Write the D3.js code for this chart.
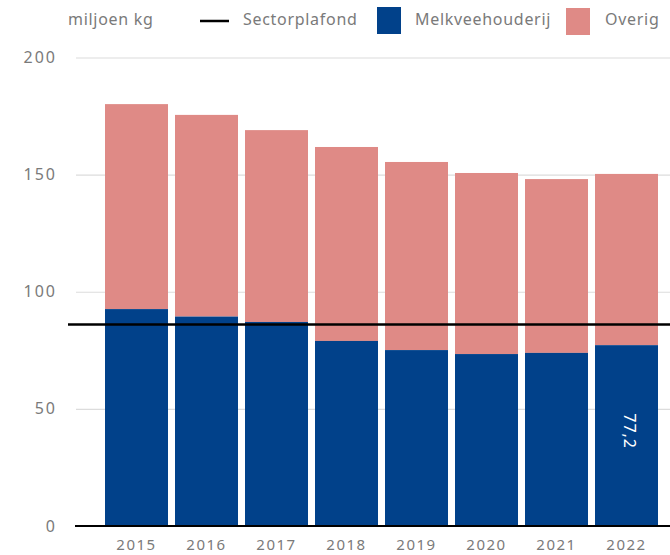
<!DOCTYPE html>
<html>
<head>
<meta charset="utf-8">
<script src="https://cdn.jsdelivr.net/npm/d3@7"></script>
<style>
  body { margin: 0; background: #fff; }
  svg text { font-family: "Noto Sans", sans-serif; }
</style>
</head>
<body>
<div id="chart"></div>
<script>
const years = ['2015', '2016', '2017', '2018', '2019', '2020', '2021', '2022'];
const totals = [180.1, 175.5, 169.0, 161.8, 155.4, 150.7, 148.1, 150.3];
const melkvee = [92.6, 89.4, 87.1, 79.0, 75.1, 73.4, 73.9, 77.2];
const sectorplafond = 86.0;
const yTicks = [0, 50, 100, 150, 200];

const width = 670;
const height = 555;

const svg = d3.select('#chart').append('svg')
  .attr('width', width)
  .attr('height', height);

const xScale = d3.scaleBand()
  .domain(years)
  .range([101.5, 661.5])
  .paddingInner(0.1)
  .paddingOuter(0.05);

const yScale = d3.scaleLinear().domain([0, 200]).range([526, 57.5]);

// gridlines
const grid = svg.append('g')
  .attr('transform', 'translate(76, 0)')
  .call(d3.axisLeft(yScale).tickValues(yTicks).tickFormat('').tickSize(-(width - 76)));
grid.select('.domain').remove();
grid.selectAll('line').attr('stroke', '#dcdcdc').attr('stroke-width', 1.2);

// y labels
svg.append('g').selectAll('text').data(yTicks).join('text')
  .attr('x', 57)
  .attr('y', (d) => yScale(d))
  .attr('dy', '0.35em')
  .attr('text-anchor', 'end')
  .attr('fill', '#7a7a7a')
  .style('font-size', '16px')
  .style('letter-spacing', '2px')
  .text((d) => d);

// bars
const rows = years.map((y, i) => ({ year: y, total: totals[i], melk: melkvee[i] }));
const bars = svg.append('g');
bars.selectAll('rect.overig').data(rows).join('rect')
  .attr('class', 'overig')
  .attr('x', (d) => xScale(d.year))
  .attr('width', xScale.bandwidth())
  .attr('y', (d) => yScale(d.total))
  .attr('height', (d) => yScale(d.melk) - yScale(d.total))
  .attr('fill', '#df8a86');
bars.selectAll('rect.melk').data(rows).join('rect')
  .attr('class', 'melk')
  .attr('x', (d) => xScale(d.year))
  .attr('width', xScale.bandwidth())
  .attr('y', (d) => yScale(d.melk))
  .attr('height', (d) => yScale(0) - yScale(d.melk))
  .attr('fill', '#01418a');

// value label on last bar
const last = rows[rows.length - 1];
const lx = xScale(last.year) + xScale.bandwidth() / 2 + 3;
const ly = yScale(40.5);
svg.append('text')
  .attr('transform', `translate(${lx}, ${ly}) rotate(90)`)
  .attr('text-anchor', 'middle')
  .attr('dy', '0.35em')
  .attr('fill', '#fff')
  .style('font-size', '16px')
  .style('letter-spacing', '1px')
  .text(String(last.melk).replace('.', ','));

// baseline
svg.append('line')
  .attr('x1', 75).attr('x2', width)
  .attr('y1', yScale(0)).attr('y2', yScale(0))
  .attr('stroke', '#000').attr('stroke-width', 2);

// sectorplafond
svg.append('line')
  .attr('x1', 68).attr('x2', width)
  .attr('y1', yScale(sectorplafond)).attr('y2', yScale(sectorplafond))
  .attr('stroke', '#000').attr('stroke-width', 2.5);

// x labels
svg.append('g').selectAll('text').data(years).join('text')
  .attr('x', (d) => xScale(d) + xScale.bandwidth() / 2)
  .attr('y', 550)
  .attr('text-anchor', 'middle')
  .attr('fill', '#7a7a7a')
  .style('font-size', '15px')
  .style('letter-spacing', '1.5px')
  .text((d) => d);

// legend
const legend = svg.append('g').style('font-size', '16px').style('letter-spacing', '0.7px');
legend.append('text').attr('x', 68).attr('y', 25).attr('fill', '#7a7a7a').text('miljoen kg');
legend.append('line').attr('x1', 200).attr('x2', 229).attr('y1', 21).attr('y2', 21)
  .attr('stroke', '#000').attr('stroke-width', 2.5);
legend.append('text').attr('x', 243).attr('y', 25).attr('fill', '#7a7a7a').text('Sectorplafond');
legend.append('rect').attr('x', 377).attr('y', 7).attr('width', 24).attr('height', 27)
  .attr('fill', '#01418a');
legend.append('text').attr('x', 415).attr('y', 25).attr('fill', '#7a7a7a').text('Melkveehouderij');
legend.append('rect').attr('x', 566).attr('y', 8).attr('width', 24).attr('height', 27)
  .attr('fill', '#df8a86');
legend.append('text').attr('x', 605).attr('y', 25).attr('fill', '#7a7a7a').text('Overig');
</script>
</body>
</html>
